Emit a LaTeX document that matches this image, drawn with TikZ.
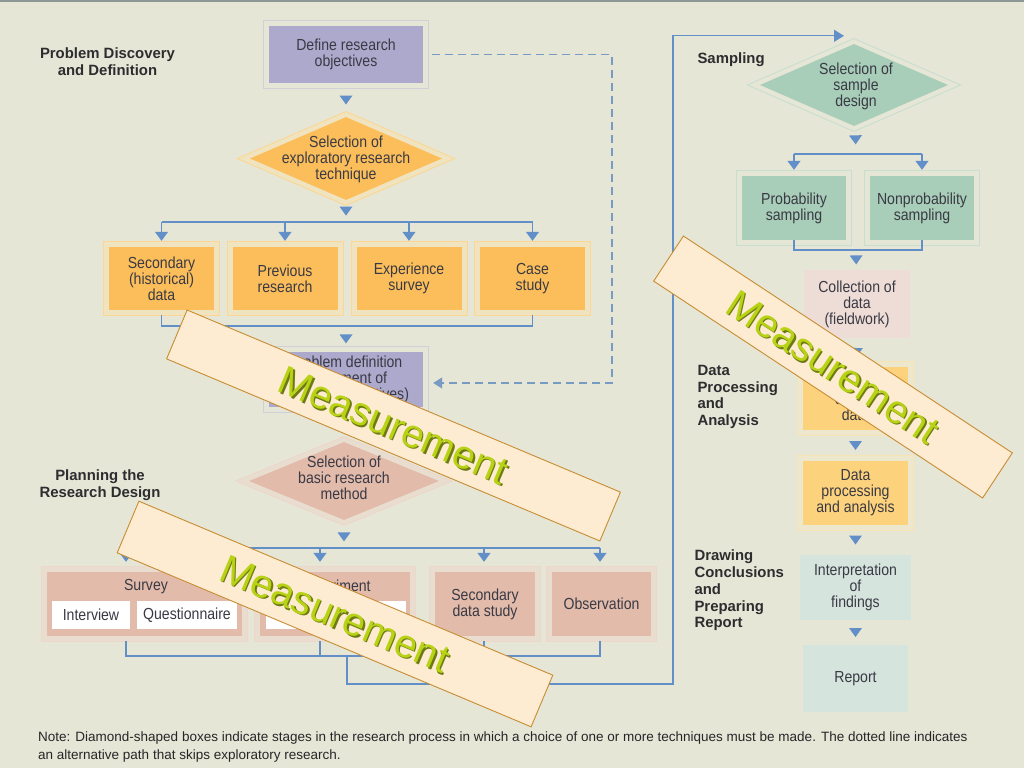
\documentclass[tikz,border=0pt]{standalone}
\usepackage{fontspec}
\setmainfont{Liberation Sans}
\newfontfamily\condf[FakeStretch=0.88]{Liberation Sans}
\usetikzlibrary{arrows.meta,shapes.geometric,calc,decorations.markings}
\definecolor{bg}{RGB}{229,230,214}
\definecolor{topline}{RGB}{140,152,150}
\definecolor{lnc}{RGB}{98,143,200}
\definecolor{dashc}{RGB}{120,155,196}
\definecolor{txtc}{RGB}{58,58,68}
\definecolor{labc}{RGB}{45,45,48}
\definecolor{purf}{RGB}{172,169,205}
\definecolor{purfr}{RGB}{208,208,216}
\definecolor{orf}{RGB}{252,190,90}
\definecolor{orfr}{RGB}{252,214,146}
\definecolor{orgap}{RGB}{240,228,192}
\definecolor{pkf}{RGB}{226,187,171}
\definecolor{pkfr}{RGB}{236,215,202}
\definecolor{pkgap}{RGB}{233,221,207}
\definecolor{grf}{RGB}{168,205,185}
\definecolor{grfr}{RGB}{200,222,208}
\definecolor{yof}{RGB}{253,210,125}
\definecolor{yofr}{RGB}{248,228,178}
\definecolor{yogap}{RGB}{236,231,205}
\definecolor{colf}{RGB}{238,221,215}
\definecolor{intf}{RGB}{214,228,222}
\definecolor{banf}{RGB}{254,236,210}
\definecolor{band}{RGB}{200,140,50}
\definecolor{meas}{RGB}{184,210,20}
\definecolor{meassh}{RGB}{110,122,20}
\definecolor{notec}{RGB}{38,38,40}
\tikzset{
  txt/.style={font=\condf\fontsize{16}{16}\selectfont, text=txtc, align=center},
  lab/.style={font=\bfseries\fontsize{14.9}{16.8}\selectfont, text=labc},
  frbox/.style n args={3}{rectangle, fill=#1, preaction={draw=#2, line width=12pt}, preaction={draw=#3, line width=10pt}, inner sep=0pt, txt},
  fdia/.style n args={3}{diamond, fill=#1, preaction={draw=#2, line width=11pt}, preaction={draw=#3, line width=9pt}, inner sep=0pt},
  plainbox/.style={rectangle, fill=#1, inner sep=0pt, txt},
  wbox/.style={rectangle, fill=white, inner sep=0pt, minimum height=28pt, txt},
  ln/.style={draw=lnc, line width=1.3pt},
  arr/.style={ln, -{Triangle[width=13pt,length=9pt]}},
  tri/.style={decoration={markings, mark=at position #1 with {\fill[lnc] (4.5pt,0pt) -- (-4.5pt,6.5pt) -- (-4.5pt,-6.5pt) -- cycle;}}, postaction={decorate}},
  tri/.default=0.5,
  banner/.style={rectangle, fill=banf, draw=band, line width=0.9pt, inner sep=0pt},
  mtext/.style={font=\fontsize{40}{40}\selectfont, text=meas, inner sep=0pt},
  mshadow/.style={font=\fontsize{40}{40}\selectfont, text=meassh, inner sep=0pt},
  notestyle/.style={font=\fontsize{13.5}{15}\selectfont, text=notec, anchor=west, inner sep=0pt},
}
\begin{document}
\begin{tikzpicture}[x=1pt,y=-1pt]
\useasboundingbox (0,0) rectangle (1024,768);
\fill[bg] (0,0) rectangle (1024,768);
\fill[topline] (0,0) rectangle (1024,2);

% ---------- left column nodes
\node[lab, align=center] (l1) at (107.5,61.5) {Problem Discovery\\and Definition};
\node[frbox={purf}{purfr}{bg}, minimum width=154pt, minimum height=57pt] (def) at (346,54.5) {Define research\\objectives};
\node[fdia={orf}{orfr}{orgap}, minimum width=192pt, minimum height=83pt] (d1) at (346,158.5) {};
\node[txt] (d1t) at (346,159) {Selection of\\exploratory research\\technique};
\node[frbox={orf}{orfr}{orgap}, minimum width=105pt, minimum height=63pt] (o1) at (161.5,278.5) {Secondary\\(historical)\\data};
\node[frbox={orf}{orfr}{orgap}, minimum width=105pt, minimum height=63pt] (o2) at (285,278.5) {Previous\\research};
\node[frbox={orf}{orfr}{orgap}, minimum width=105pt, minimum height=63pt] (o3) at (409,278.5) {Experience\\survey};
\node[frbox={orf}{orfr}{orgap}, minimum width=105pt, minimum height=63pt] (o4) at (532.5,278.5) {Case\\study};
\node[frbox={purf}{purfr}{bg}, minimum width=154pt, minimum height=55pt] (pd) at (346,379.5) {Problem definition\\(statement of\\research objectives)};
\node[fdia={pkf}{pkfr}{pkgap}, minimum width=190pt, minimum height=78pt] (d2) at (344,481) {};
\node[txt] (d2t) at (344,478) {Selection of\\basic research\\method};
\node[lab, align=center] (l2) at (100,485) {Planning the\\Research Design};

\node[frbox={pkf}{pkfr}{pkgap}, minimum width=195pt, minimum height=64pt] (sv) at (144.5,604) {};
\node[txt] (svt) at (146,587) {Survey};
\node[wbox, minimum width=78pt] (iv) at (91,615) {Interview};
\node[wbox, minimum width=100pt] (qn) at (187,615) {Questionnaire};
\node[frbox={pkf}{pkfr}{pkgap}, minimum width=150pt, minimum height=64pt] (ex) at (335,604) {};
\node[txt] (ext) at (335,587) {Experiment};
\node[wbox, minimum width=82pt] (lb) at (307,615) {Laboratory};
\node[wbox, minimum width=52pt] (fd) at (380,615) {Field};
\node[frbox={pkf}{pkfr}{pkgap}, minimum width=100pt, minimum height=64pt] (sd) at (485,604) {Secondary\\data study};
\node[frbox={pkf}{pkfr}{pkgap}, minimum width=99pt, minimum height=64pt] (ob) at (601.5,604) {Observation};

% ---------- right column nodes
\node[lab, anchor=west] (l3) at (694,60) {Sampling};
\node[fdia={grf}{grfr}{bg}, minimum width=188pt, minimum height=82pt] (d3) at (854,85) {};
\node[txt] (d3t) at (856,86) {Selection of\\sample\\design};
\node[frbox={grf}{grfr}{bg}, minimum width=104pt, minimum height=64pt] (pr) at (794,208) {Probability\\sampling};
\node[frbox={grf}{grfr}{bg}, minimum width=104pt, minimum height=64pt] (np) at (922,208) {Nonprobability\\sampling};
\node[plainbox=colf, minimum width=106pt, minimum height=68pt] (col) at (857,304) {Collection of\\data\\(fieldwork)};
\node[frbox={yof}{yofr}{yogap}, minimum width=105pt, minimum height=63pt] (ed) at (855.5,398.5) {Editing and\\coding\\data};
\node[frbox={yof}{yofr}{yogap}, minimum width=105pt, minimum height=64pt] (dp) at (855.5,493) {Data\\processing\\and analysis};
\node[plainbox=intf, minimum width=111pt, minimum height=65pt] (ip) at (855.5,587.5) {Interpretation\\of\\findings};
\node[plainbox=intf, minimum width=105pt, minimum height=67pt] (rp) at (855.5,678.5) {Report};
\node[lab, align=left, anchor=west] (l4) at (694,397) {Data\\Processing\\and\\Analysis};
\node[lab, align=left, anchor=west] (l5) at (691,590.5) {Drawing\\Conclusions\\and\\Preparing\\Report};

% ---------- connectors left
\path[tri] (def) -- (d1);
\coordinate (b1) at (346,222);
\path[tri] (d1) -- (b1);
\draw[ln] (b1 -| o1) -- (b1 -| o4);
\foreach \n in {o1,o2,o3,o4} \draw[arr, shorten >=6pt] (b1 -| \n) -- (\n.north);
\coordinate (b2) at (346,326);
\draw[ln] ($(o1.south)+(0,5)$) |- (b2 -| o4) -- ($(o4.south)+(0,5)$);
\path[tri] (b2) -- (pd);
\path[tri] (pd) -- (d2);
\coordinate (b3) at (344,548);
\path[tri={0.6}] (d2) -- (b3);
\coordinate (c1) at (126,548);
\coordinate (c2) at (320,548);
\coordinate (c3) at (484,548);
\coordinate (c4) at (600,548);
\draw[ln] (c1) -- (c4);
\draw[arr, shorten >=10pt] (c1) -- (c1 |- sv.north);
\draw[arr, shorten >=10pt] (c2) -- (c2 |- ex.north);
\draw[arr, shorten >=10pt] (c3) -- (c3 |- sd.north);
\draw[arr, shorten >=10pt] (c4) -- (c4 |- ob.north);
\coordinate (bb) at (347,656);
\draw[ln] ($(c1 |- sv.south)+(0,5)$) |- (bb -| c4) -- ($(c4 |- ob.south)+(0,5)$);
\draw[ln] ($(c2 |- ex.south)+(0,5)$) -- (bb -| c2);
\draw[ln] ($(c3 |- sd.south)+(0,5)$) -- (bb -| c3);
\coordinate (rt) at (673,684);
\draw[ln, -{Triangle[width=12pt,length=10pt]}] (bb) |- (rt) |- ($(d3.north)+(-10,-8)$);
\coordinate (dx) at (612,0);
\draw[draw=dashc, line width=1.2pt, dash pattern=on 8pt off 5pt, -{Triangle[width=11pt,length=9pt]}] ($(def.east)+(9,0)$) -| ($(dx |- pd.east)+(0,3.5)$) -- ($(pd.east)+(10,3.5)$);

% ---------- connectors right
\coordinate (s1) at (856,154);
\path[tri] (d3) -- (s1);
\draw[ln] (s1 -| pr) -- (s1 -| np);
\draw[arr, shorten >=6pt] (s1 -| pr) -- (pr.north);
\draw[arr, shorten >=6pt] (s1 -| np) -- (np.north);
\coordinate (s2) at (856,250);
\draw[ln] (pr.south) |- (s2 -| np) -- (np.south);
\path[tri] (s2) -- (col);
\path[tri] (col) -- (ed);
\path[tri] (ed) -- (dp);
\path[tri] (dp) -- (ip);
\path[tri] (ip) -- (rp);

% ---------- note
\node[notestyle] (n1) at (38,738) {Note: Diamond-shaped boxes indicate stages in the research process in which a choice of one or more techniques must be made. The dotted line indicates};
\node[notestyle] (n2) at (38,756) {an alternative path that skips exploratory research.};

% ---------- banners
\node[banner, rotate=-22.8, minimum width=470pt, minimum height=53pt] (m1) at (393.5,425.5) {};
\node[mshadow, rotate=-22.8] (m1s) at ($(m1)+(1.5,1.5)$) {Measurement};
\node[mtext, rotate=-22.8] (m1t) at (m1) {Measurement};
\node[banner, rotate=-33.4, minimum width=394pt, minimum height=54pt] (m2) at (833,367) {};
\node[mshadow, rotate=-33.4] (m2s) at ($(m2)+(1.5,1.5)$) {Measurement};
\node[mtext, rotate=-33.4] (m2t) at (m2) {Measurement};
\node[banner, rotate=-22.8, minimum width=449pt, minimum height=56pt] (m3) at (335,614) {};
\node[mshadow, rotate=-22.8] (m3s) at ($(m3)+(1.5,1.5)$) {Measurement};
\node[mtext, rotate=-22.8] (m3t) at (m3) {Measurement};
\end{tikzpicture}
\end{document}
